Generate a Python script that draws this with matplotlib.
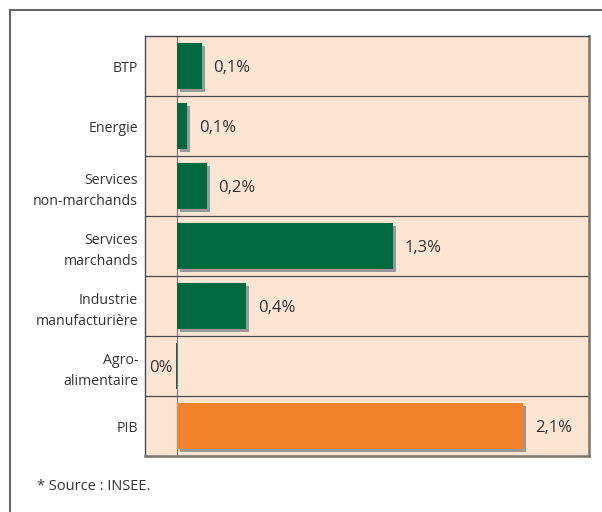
import matplotlib.pyplot as plt
import matplotlib.transforms as mtransforms

# Data (top to bottom)
categories = ['BTP', 'Energie', 'Services\nnon-marchands', 'Services\nmarchands',
              'Industrie\nmanufacturière', 'Agro-\nalimentaire', 'PIB']
values = [0.15, 0.06, 0.18, 1.31, 0.42, -0.008, 2.10]
value_labels = ['0,1%', '0,1%', '0,2%', '1,3%', '0,4%', '0%', '2,1%']

green = '#006a3e'
orange = '#f2832d'
colors = [green] * 6 + [orange]
text_col = '#333333'

plt.rcParams['font.family'] = ['Open Sans', 'DejaVu Sans']

fig = plt.figure(figsize=(6.02, 5.12), dpi=100)
ax = fig.add_axes([145 / 602, 1 - 456 / 512, 444 / 602, 420 / 512])
ax.set_facecolor('#fde5d3')

ypos = list(range(len(categories)))

# Shadows offset 3px right, 3px down
shadow_tr = ax.transData + mtransforms.ScaledTranslation(3 / 100, -3 / 100, fig.dpi_scale_trans)
for y, v in zip(ypos, values):
    if abs(v) > 0.02:
        ax.barh(y, v, height=0.77, color='#999999', transform=shadow_tr, zorder=2)

ax.barh(ypos, values, height=0.77, color=colors, zorder=3)

# zero line and row separators
ax.axvline(0, color='#777777', lw=0.8, zorder=1)
for b in range(1, len(categories)):
    ax.axhline(b - 0.5, color='#4a4a4a', lw=0.9, zorder=1)

# value labels
for y, v, lab in zip(ypos, values, value_labels):
    if v >= 0:
        ax.annotate(lab, (v, y), xytext=(8.5, -1.5), textcoords='offset points',
                    ha='left', va='center', fontsize=12, color=text_col)
    else:
        ax.annotate(lab, (v, y), xytext=(-2.5, -1.5), textcoords='offset points',
                    ha='right', va='center', fontsize=12, color=text_col)

ax.set_xlim(-0.194, 2.5)
ax.set_ylim(len(categories) - 0.5, -0.5)
ax.set_xticks([])
ax.set_yticks(ypos)
ax.set_yticklabels(categories, fontsize=10.2, color=text_col, linespacing=1.55)
ax.tick_params(axis='y', length=0, pad=5)

for side in ['top', 'left']:
    ax.spines[side].set_color('#4a4a4a')
    ax.spines[side].set_linewidth(1.0)
for side in ['right', 'bottom']:
    ax.spines[side].set_color('#7a7370')
    ax.spines[side].set_linewidth(1.8)

# outer frame (top and left edges visible)
fig.add_artist(plt.Line2D([10 / 602, 10 / 602], [0, 1 - 10 / 512],
                          color='#666666', lw=1.5, transform=fig.transFigure))
fig.add_artist(plt.Line2D([10 / 602, 1], [1 - 10 / 512, 1 - 10 / 512],
                          color='#666666', lw=1.5, transform=fig.transFigure))

fig.text(37 / 602, 1 - 486 / 512, '* Source : INSEE.', fontsize=10.5,
         color=text_col, ha='left', va='center')

fig.savefig('out.png', dpi=100)
